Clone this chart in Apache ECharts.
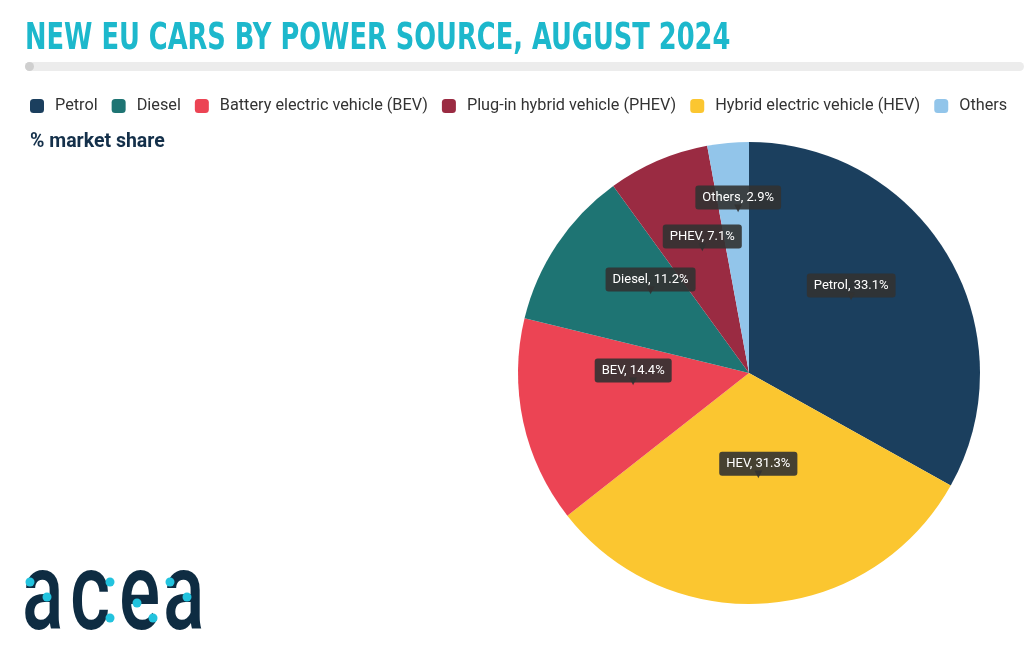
<!DOCTYPE html>
<html><head><meta charset="utf-8">
<script src="https://cdn.jsdelivr.net/npm/echarts@6/dist/echarts.min.js"></script>
<style>html,body{margin:0;padding:0;background:#fff}#c{width:1024px;height:660px}</style>
</head><body><div id="c"></div>
<script>
const categories = ['Petrol','Hybrid electric vehicle (HEV)','Battery electric vehicle (BEV)','Diesel','Plug-in hybrid vehicle (PHEV)','Others'];
const shortNames = ['Petrol','HEV','BEV','Diesel','PHEV','Others'];
const shares = [33.1, 31.3, 14.4, 11.2, 7.1, 2.9];
const legendOrder = ['Petrol','Diesel','Battery electric vehicle (BEV)','Plug-in hybrid vehicle (PHEV)','Hybrid electric vehicle (HEV)','Others'];
const colors = {
  'Petrol':'#1b3f5e',
  'Diesel':'#1e7473',
  'Battery electric vehicle (BEV)':'#ec4454',
  'Plug-in hybrid vehicle (PHEV)':'#9a2b42',
  'Hybrid electric vehicle (HEV)':'#fbc630',
  'Others':'#92c5ea'
};
const titleText = 'NEW EU CARS BY POWER SOURCE, AUGUST 2024';
const logoLetters = ['a','c','e','a'];
const chart = echarts.init(document.getElementById('c'));
const dot = '#22c3de';
const logo = logoLetters.map((ch,i)=>({type:'text',x:[22,70,119,163][i],y:546,scaleX:0.7,
  style:{text:ch,fontFamily:'Roboto',fontWeight:500,fontSize:110,fill:'#0e2c42'}}));
const dots = [[30,582],[47,597],[110,582],[110,618],[137,603],[153,618],[170,582],[187,597]]
  .map(d=>({type:'circle',shape:{cx:d[0],cy:d[1],r:4.5},style:{fill:dot},z:10}));
chart.setOption({
  backgroundColor:'#fff',
  animation:false,
  legend:{left:25,top:93,itemWidth:14,itemHeight:14,itemGap:14,icon:'roundRect',
    data:legendOrder,
    textStyle:{fontFamily:'Roboto',fontSize:16.25,color:'#333',padding:[0,0,0,6]}},
  graphic:[
    {type:'text',x:25,y:20,scaleX:0.752,style:{text:titleText,fontFamily:'DejaVu Sans Condensed',fontWeight:'bold',fontSize:38,fill:'#1db8cc'}},
    {type:'rect',left:25,top:62,shape:{width:999,height:9,r:4.5},style:{fill:'#ececec'}},
    {type:'circle',left:25,top:62,shape:{r:4.5},style:{fill:'#cfcfcf'}},
    {type:'text',left:30,top:132,style:{text:'% market share',fontFamily:'Roboto',fontWeight:'bold',fontSize:19.5,fill:'#14304a'}}
  ].concat(logo, dots),
  series:[{
    type:'pie',
    center:[749,373],radius:[0,231],
    startAngle:90,clockwise:true,
    avoidLabelOverlap:false,
    itemStyle:{borderWidth:0},
    emphasis:{disabled:true},
    label:{show:true,position:'inside',
      formatter:p=>'{b|'+shortNames[p.dataIndex]+', '+p.value.toFixed(1)+'%}\n{a|▼}',
      rich:{
        b:{fontFamily:'Roboto',fontSize:13,color:'#fff',backgroundColor:'rgba(50,50,50,0.9)',borderRadius:3,padding:[6,7,5,7],lineHeight:15},
        a:{fontFamily:'DejaVu Sans',fontSize:10,color:'rgba(50,50,50,0.9)',lineHeight:7}
      }},
    labelLayout:p=>({dy: p.dataIndex===5 ? -54 : -24}),
    labelLine:{show:false},
    data:categories.map((c,i)=>({name:c,value:shares[i],itemStyle:{color:colors[c]}}))
  }]
});
</script></body></html>
